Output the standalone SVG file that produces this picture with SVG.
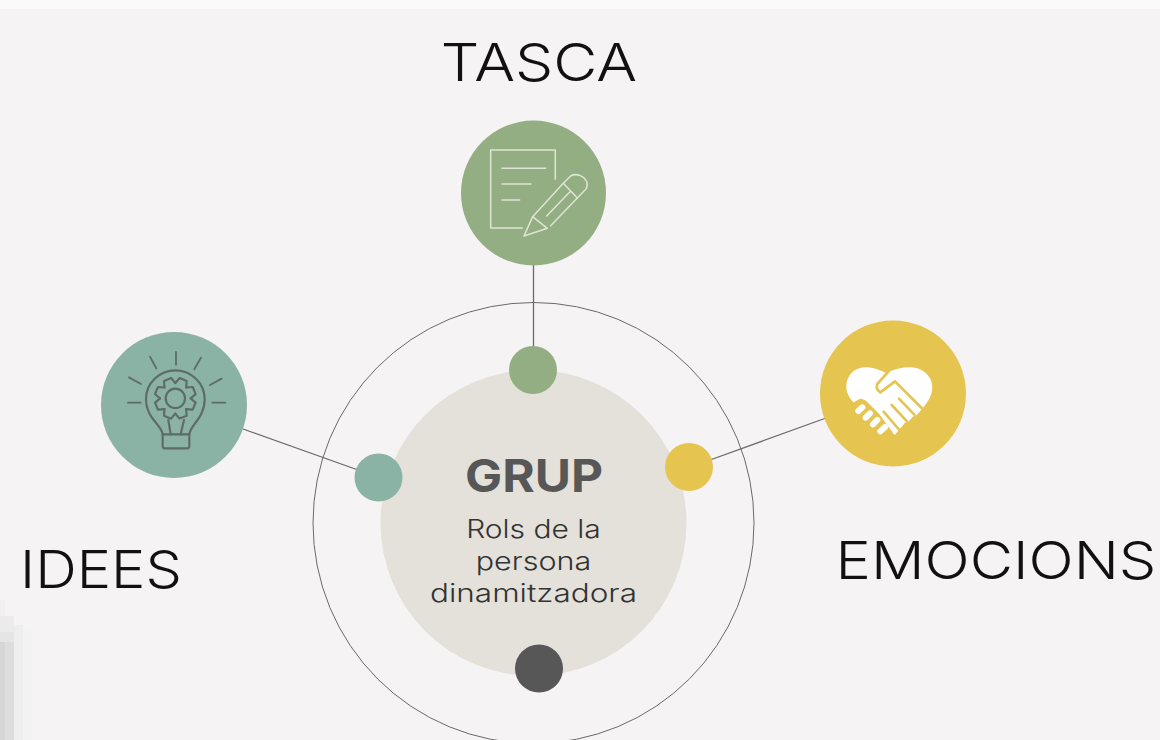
<svg xmlns="http://www.w3.org/2000/svg" width="1160" height="740" viewBox="0 0 1160 740">
<style>
.lab{font-family:"Inter","Liberation Sans",sans-serif;font-weight:300;font-size:52px;fill:#111;text-anchor:middle}
.sub{font-family:"Inter","Liberation Sans",sans-serif;font-weight:300;font-size:25px;fill:#333;text-anchor:middle}
.conn{stroke:#6a6a6a;stroke-width:1.3;fill:none}
.ic{fill:none;stroke-linecap:round;stroke-linejoin:round}
</style>
<defs>
<path id="tooth" d="M0 -46L13 -61L34 -52L32.500 -32.500"/>
</defs>
<rect width="1160" height="740" fill="#f5f3f4"/>
<rect width="1160" height="9" fill="#fafafa"/>
<g id="blur">
<rect x="0" y="600" width="5" height="140" fill="#f1f0f0"/>
<rect x="0" y="616" width="14" height="124" fill="#ecebeb"/>
<rect x="0" y="632" width="14" height="108" fill="#e6e5e5"/>
<rect x="0" y="642" width="5" height="98" fill="#d6d6d6"/>
<rect x="5" y="642" width="9" height="98" fill="#dedddd"/>
<rect x="14" y="625" width="9" height="115" fill="#efeeee"/>
<rect x="23" y="630" width="9" height="110" fill="#f3f2f2"/>
</g>
<g id="ring"><circle cx="533.500" cy="523" r="220.500" fill="none" stroke="#6a6a6a" stroke-width="1"/></g>
<g id="connectors">
<line class="conn" x1="533.500" y1="264" x2="533.500" y2="348"/>
<line class="conn" x1="243" y1="429" x2="358" y2="470"/>
<line class="conn" x1="710" y1="460" x2="826" y2="418"/>
</g>
<g id="grup">
<circle cx="533.500" cy="523" r="153" fill="#e3e1da"/>
<text transform="translate(534 492) scale(1.1 1)" font-family="Inter,'Liberation Sans',sans-serif" font-weight="700" font-size="45" fill="#575757" text-anchor="middle">GRUP</text>
<text class="sub" transform="translate(533.500 538) scale(1.2 1)">Rols de la</text>
<text class="sub" transform="translate(533.500 570) scale(1.22 1)">persona</text>
<text class="sub" transform="translate(533.500 602) scale(1.26 1)">dinamitzadora</text>
</g>
<g id="dot-tasca"><circle cx="533" cy="370" r="24" fill="#93ae82"/></g>
<g id="dot-idees"><circle cx="378.500" cy="477.500" r="24" fill="#8ab3a5"/></g>
<g id="dot-emocions"><circle cx="689" cy="467" r="24" fill="#e5c44f"/></g>
<g id="dot-grup"><circle cx="539" cy="668.500" r="24" fill="#575757"/></g>
<g id="tasca">
<circle cx="533.500" cy="193" r="72.500" fill="#93ae82"/>
<g class="ic" transform="translate(450 110) scale(.3333)" stroke="#dfe5d5" stroke-width="4.500">
<path d="M217 354H122V120H316V208"/>
<path d="M156 175H287M156 222H243M156 270H209"/>
<path d="M248 320L340 220L362 198C380 188 405 198 411 218C413 230 408 240 400 245L302 347"/>
<path d="M340 220L382 264M290 318L360 245"/>
<path d="M248 320L222 378L292 355Z"/>
</g>
<text class="lab" transform="translate(539 81) scale(1.165 1)">TASCA</text>
</g>
<g id="idees">
<circle cx="174" cy="405" r="73" fill="#8ab3a5"/>
<g class="ic" transform="translate(90 320) scale(.3333)" stroke="#5f6b67" stroke-width="5.500">
<path d="M258 96V134M180 110L199 145M333 113L313 148M117 172L153 192M395 176L360 195M114 248H152M367 248H406"/>
</g>
<g class="ic" transform="translate(140 365) scale(.3333)" stroke="#5f6b67" stroke-width="6.500">
<path d="M68 208C66 180 18 160 18 102C18 55 58 16 106 16C154 16 194 55 194 102C194 160 150 180 148 208"/>
<path d="M68 208H148V244Q148 250 142 250H74Q68 250 68 244Z"/>
<path d="M85 165L92 208M132 165L122 208"/>
<circle cx="106" cy="100" r="29"/>
<g transform="translate(106 100)">
<use href="#tooth"/><use href="#tooth" transform="rotate(45)"/><use href="#tooth" transform="rotate(90)"/><use href="#tooth" transform="rotate(135)"/><use href="#tooth" transform="rotate(180)"/><use href="#tooth" transform="rotate(225)"/><use href="#tooth" transform="rotate(270)"/><use href="#tooth" transform="rotate(315)"/>
</g>
</g>
<text class="lab" transform="translate(101 588) scale(1.11 1)">IDEES</text>
</g>
<g id="emocions">
<circle cx="893" cy="393.500" r="73" fill="#e5c44f"/>
<g transform="translate(845 360) scale(.3333)">
<path fill="#fff" d="M28 130C10 110 4 95 4 80C4 45 30 22 62 22C85 22 105 30 125 40C145 28 170 22 195 22C232 22 262 48 262 82C262 105 250 125 232 146L215 165L206 168L190 185L180 188L160 212L150 224L140 218L118 192L85 150L62 128L45 122Z"/>
<g stroke="#e5c44f" stroke-width="8" fill="none" stroke-linecap="round" stroke-linejoin="round">
<path d="M130 35L97 72Q90 86 106 97L150 64L236 150"/>
<path d="M162 116L208 164M140 135L186 184M116 155L163 210"/>
<path d="M28 130L47 120Q60 122 70 135L100 165L140 220"/>
</g>
<g stroke="#fff" stroke-width="18" stroke-linecap="round">
<path d="M40 153L52 142M62 173L75 160M84 193L97 180M106 214L120 201"/>
</g>
</g>
<text class="lab" transform="translate(996 579) scale(1.144 1)">EMOCIONS</text>
</g>
</svg>
